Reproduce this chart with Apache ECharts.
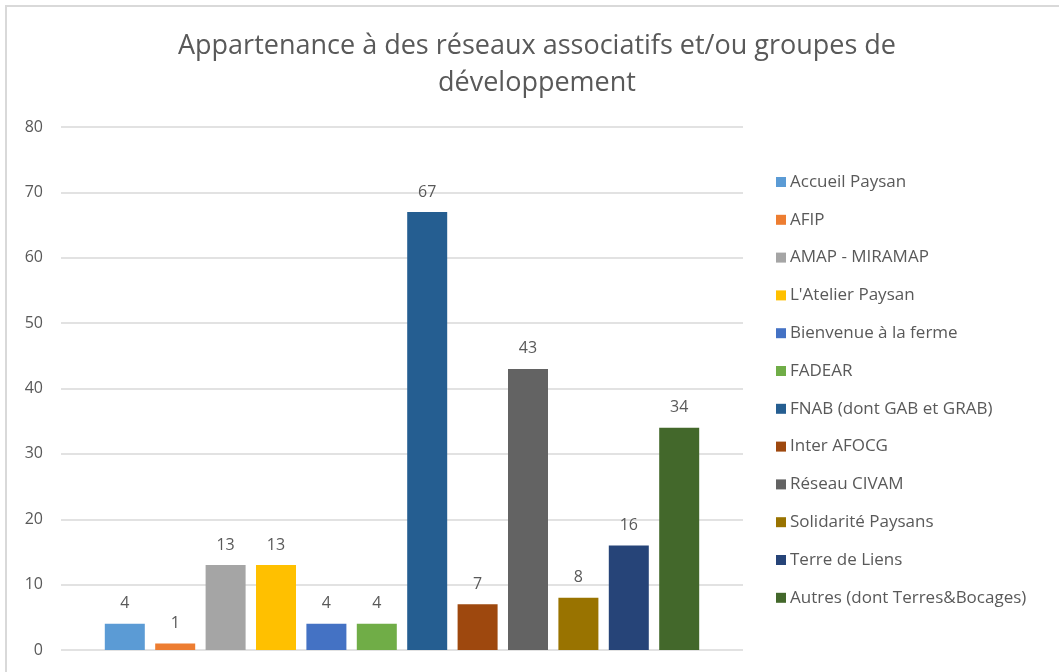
<!DOCTYPE html>
<html>
<head>
<meta charset="utf-8">
<script src="https://cdn.jsdelivr.net/npm/echarts@6/dist/echarts.min.js"></script>
<style>
  html, body { margin: 0; padding: 0; background: #fff; }
  #main { width: 1059px; height: 672px; }
</style>
</head>
<body>
<div id="main"></div>
<script>
// données
var categories = [''];
var seriesNames = [
    'Accueil Paysan', 'AFIP', 'AMAP - MIRAMAP', "L'Atelier Paysan",
    'Bienvenue à la ferme', 'FADEAR', 'FNAB (dont GAB et GRAB)', 'Inter AFOCG',
    'Réseau CIVAM', 'Solidarité Paysans', 'Terre de Liens', 'Autres (dont Terres&Bocages)'
];
var seriesValues = [4, 1, 13, 13, 4, 4, 67, 7, 43, 8, 16, 34];
var colors = [
    '#5B9BD5', '#ED7D31', '#A5A5A5', '#FFC000', '#4472C4', '#70AD47',
    '#255E91', '#9E480E', '#636363', '#997300', '#264478', '#43682B'
];
var yTicks = [0, 10, 20, 30, 40, 50, 60, 70, 80];

var font = 'Open Sans';
var textColor = '#595959';

var myChart = echarts.init(document.getElementById('main'));

var series = [];
for (var i = 0; i < seriesNames.length; i++) {
    series.push({
        name: seriesNames[i],
        type: 'bar',
        data: [seriesValues[i]],
        barWidth: 40,
        barGap: '26%',
        itemStyle: { color: colors[i] },
        label: {
            show: true,
            position: 'top',
            distance: 12,
            color: textColor,
            fontFamily: font,
            fontSize: 16
        }
    });
}

var option = {
    animation: false,
    title: {
        text: 'Appartenance à des réseaux associatifs et/ou groupes de\ndéveloppement',
        left: 532,
        textAlign: 'center',
        top: 23,
        textStyle: {
            color: textColor,
            fontFamily: font,
            fontWeight: 'normal',
            fontSize: 27,
            lineHeight: 37
        }
    },
    legend: {
        orient: 'vertical',
        left: 776,
        top: 173,
        padding: 0,
        itemWidth: 10,
        itemHeight: 10,
        itemGap: 19.8,
        icon: 'rect',
        data: seriesNames,
        textStyle: {
            color: textColor,
            fontFamily: font,
            fontSize: 17,
            lineHeight: 18,
            padding: [0, 0, 0, -1]
        }
    },
    grid: {
        left: 61,
        right: 316,
        top: 127,
        bottom: 22,
        containLabel: false
    },
    xAxis: {
        type: 'category',
        data: categories,
        axisLine: { show: false },
        axisTick: { show: false },
        axisLabel: { show: false }
    },
    yAxis: {
        type: 'value',
        min: yTicks[0],
        max: yTicks[yTicks.length - 1],
        interval: 10,
        axisLine: { show: false },
        axisTick: { show: false },
        axisLabel: {
            color: textColor,
            fontFamily: font,
            fontSize: 16,
            margin: 18
        },
        splitLine: { lineStyle: { color: '#d9d9d9', width: 1.5 } }
    },
    graphic: [{
        type: 'rect',
        shape: { x: 6, y: 6, width: 1100, height: 700 },
        style: { fill: 'none', stroke: '#d9d9d9', lineWidth: 2 },
        silent: true
    }],
    series: series
};

myChart.setOption(option);
</script>
</body>
</html>
